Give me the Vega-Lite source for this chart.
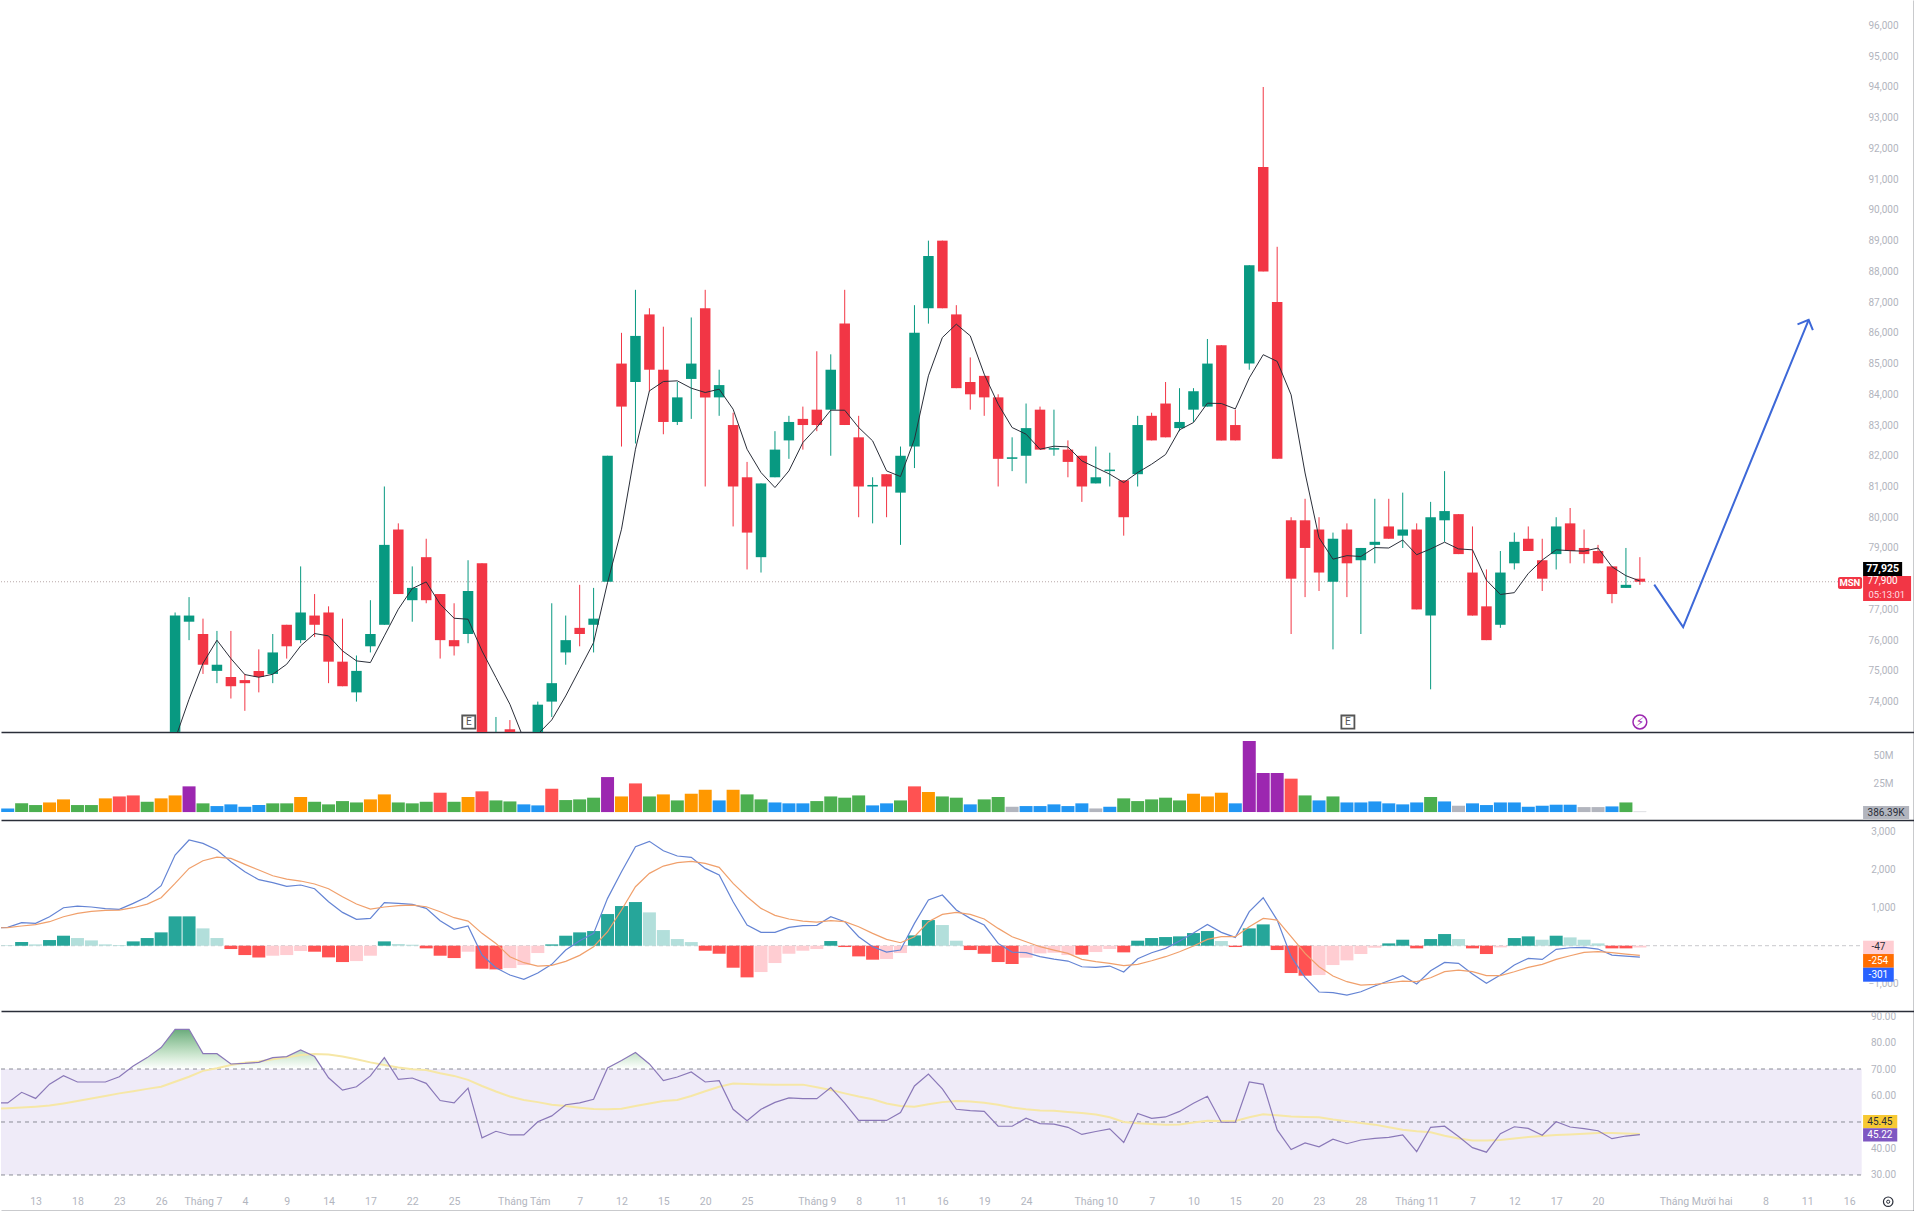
{
  "$schema": "https://vega.github.io/schema/vega-lite/v6.json",
  "padding": 0,
  "autosize": {"type": "pad"},
  "background": "white",
  "spacing": 0,
  "bounds": "flush",
  "resolve": {"scale": {"color": "independent"}},
  "config": {
    "view": {"stroke": null},
    "scale": {"continuousPadding": 0},
    "axis": {"grid": false, "ticks": false, "labelFont": "Roboto", "labelFontSize": 10, "labelColor": "#b2b5be", "domainColor": "#2a2e39", "domainWidth": 1.5, "labelOverlap": false, "labelBound": false, "labelFlush": false},
    "text": {"font": "Roboto"}
  },
  "datasets": {
    "one": [{"row": 1}],
    "bars": [
      {"i":-1,"macd":470,"signal":470,"rsi":57.2,"rsiMa":55},
      {"i":0,"vol":3.2,"volBand":"blue","hist":9,"histBand":"upFade","macd":482,"signal":474,"rsi":57.2,"rsiMa":55.2},
      {"i":1,"vol":7.7,"volBand":"green","hist":96,"histBand":"up","macd":605,"signal":518,"rsi":61.2,"rsiMa":55.5},
      {"i":2,"vol":6.2,"volBand":"green","hist":35,"histBand":"upFade","macd":588,"signal":553,"rsi":58.9,"rsiMa":55.8},
      {"i":3,"vol":8.5,"volBand":"orange","hist":149,"histBand":"up","macd":763,"signal":632,"rsi":64.3,"rsiMa":56.2},
      {"i":4,"vol":11.2,"volBand":"orange","hist":263,"histBand":"up","macd":1000,"signal":763,"rsi":67.5,"rsiMa":57},
      {"i":5,"vol":6.2,"volBand":"green","hist":202,"histBand":"upFade","macd":1044,"signal":851,"rsi":65.1,"rsiMa":57.9},
      {"i":6,"vol":6.2,"volBand":"green","hist":140,"histBand":"upFade","macd":1018,"signal":904,"rsi":65.1,"rsiMa":58.9},
      {"i":7,"vol":12.1,"volBand":"orange","hist":35,"histBand":"upFade","macd":974,"signal":930,"rsi":65.1,"rsiMa":59.8},
      {"i":8,"vol":13.8,"volBand":"red","hist":18,"histBand":"upFade","macd":956,"signal":939,"rsi":67.1,"rsiMa":60.8},
      {"i":9,"vol":14.7,"volBand":"red","hist":114,"histBand":"up","macd":1114,"signal":1000,"rsi":71.1,"rsiMa":61.6},
      {"i":10,"vol":9.1,"volBand":"green","hist":202,"histBand":"up","macd":1289,"signal":1096,"rsi":74.3,"rsiMa":62.5},
      {"i":11,"vol":12.1,"volBand":"orange","hist":351,"histBand":"up","macd":1579,"signal":1263,"rsi":78.1,"rsiMa":63.3},
      {"i":12,"open":72000,"high":76900,"low":71800,"close":76800,"ma":72775,"vol":14.7,"volBand":"orange","hist":772,"histBand":"up","macd":2386,"signal":1640,"rsi":85,"rsiMa":65.2},
      {"i":13,"open":76600,"high":77400,"low":76000,"close":76800,"ma":74077,"vol":22.7,"volBand":"purple","hist":772,"histBand":"up","macd":2781,"signal":2035,"rsi":85,"rsiMa":67.1},
      {"i":14,"open":76200,"high":76700,"low":74900,"close":75200,"ma":75249,"vol":7.7,"volBand":"green","hist":456,"histBand":"upFade","macd":2693,"signal":2237,"rsi":75.8,"rsiMa":69.3},
      {"i":15,"open":75000,"high":76300,"low":74600,"close":75200,"ma":75998,"vol":5.3,"volBand":"blue","hist":202,"histBand":"upFade","macd":2518,"signal":2333,"rsi":75.8,"rsiMa":70.3},
      {"i":16,"open":74800,"high":76300,"low":74100,"close":74500,"ma":75401,"vol":6.8,"volBand":"blue","hist":-88,"histBand":"down","macd":2211,"signal":2298,"rsi":71.9,"rsiMa":71.5},
      {"i":17,"open":74700,"high":74900,"low":73700,"close":74600,"ma":74880,"vol":4.7,"volBand":"blue","hist":-246,"histBand":"down","macd":1947,"signal":2140,"rsi":72.1,"rsiMa":72.4},
      {"i":18,"open":75000,"high":75700,"low":74300,"close":74800,"ma":74793,"vol":6.2,"volBand":"blue","hist":-307,"histBand":"down","macd":1737,"signal":1991,"rsi":72.5,"rsiMa":72.8},
      {"i":19,"open":74900,"high":76200,"low":74600,"close":75600,"ma":74890,"vol":7.7,"volBand":"green","hist":-263,"histBand":"downFade","macd":1658,"signal":1842,"rsi":74.3,"rsiMa":73.7},
      {"i":20,"open":76500,"high":76500,"low":75400,"close":75800,"ma":75216,"vol":7.7,"volBand":"green","hist":-246,"histBand":"downFade","macd":1561,"signal":1754,"rsi":74.7,"rsiMa":74.4},
      {"i":21,"open":76000,"high":78400,"low":75900,"close":76900,"ma":75813,"vol":13.3,"volBand":"orange","hist":-140,"histBand":"downFade","macd":1597,"signal":1702,"rsi":77.2,"rsiMa":75.3},
      {"i":22,"open":76800,"high":77500,"low":76100,"close":76500,"ma":76215,"vol":9.1,"volBand":"green","hist":-158,"histBand":"down","macd":1500,"signal":1623,"rsi":74.7,"rsiMa":75.7},
      {"i":23,"open":76900,"high":77100,"low":74600,"close":75300,"ma":76139,"vol":6.8,"volBand":"green","hist":-307,"histBand":"down","macd":1158,"signal":1500,"rsi":66.7,"rsiMa":75.5},
      {"i":24,"open":75300,"high":76700,"low":74500,"close":74500,"ma":75650,"vol":9.7,"volBand":"green","hist":-430,"histBand":"down","macd":877,"signal":1289,"rsi":62,"rsiMa":74.7},
      {"i":25,"open":74300,"high":75500,"low":74000,"close":75000,"ma":75325,"vol":8.5,"volBand":"green","hist":-404,"histBand":"downFade","macd":693,"signal":1096,"rsi":63.3,"rsiMa":73.7},
      {"i":26,"open":75800,"high":77300,"low":75600,"close":76200,"ma":75271,"vol":11.2,"volBand":"orange","hist":-263,"histBand":"downFade","macd":719,"signal":965,"rsi":67.4,"rsiMa":72.5},
      {"i":27,"open":76500,"high":81000,"low":76500,"close":79100,"ma":76139,"vol":15.6,"volBand":"orange","hist":114,"histBand":"up","macd":1132,"signal":1018,"rsi":74.3,"rsiMa":71.5},
      {"i":28,"open":79600,"high":79800,"low":77500,"close":77500,"ma":77006,"vol":8.5,"volBand":"green","hist":44,"histBand":"upFade","macd":1114,"signal":1053,"rsi":66.1,"rsiMa":70.6},
      {"i":29,"open":77300,"high":78400,"low":76600,"close":77700,"ma":77680,"vol":7.7,"volBand":"green","hist":26,"histBand":"upFade","macd":1088,"signal":1070,"rsi":66.6,"rsiMa":69.9},
      {"i":30,"open":78700,"high":79300,"low":77200,"close":77300,"ma":77896,"vol":9.1,"volBand":"green","hist":-70,"histBand":"down","macd":982,"signal":1026,"rsi":64.6,"rsiMa":69.6},
      {"i":31,"open":77500,"high":77500,"low":75400,"close":76000,"ma":77169,"vol":17.1,"volBand":"red","hist":-263,"histBand":"down","macd":658,"signal":895,"rsi":58.1,"rsiMa":68.4},
      {"i":32,"open":76000,"high":77200,"low":75500,"close":75800,"ma":76713,"vol":9.1,"volBand":"green","hist":-325,"histBand":"down","macd":430,"signal":737,"rsi":57.2,"rsiMa":67.4},
      {"i":33,"open":76200,"high":78600,"low":75900,"close":77600,"ma":76681,"vol":13.3,"volBand":"orange","hist":-158,"histBand":"downFade","macd":518,"signal":649,"rsi":62.8,"rsiMa":65.9},
      {"i":34,"open":78500,"high":78500,"low":72700,"close":72800,"ma":75650,"vol":18.3,"volBand":"red","hist":-605,"histBand":"down","macd":-246,"signal":325,"rsi":44,"rsiMa":63.6},
      {"i":35,"open":72500,"high":73500,"low":72300,"close":72900,"ma":74782,"vol":10.3,"volBand":"green","hist":-623,"histBand":"down","macd":-579,"signal":61,"rsi":46.5,"rsiMa":61.5},
      {"i":36,"open":73100,"high":73400,"low":72500,"close":72600,"ma":73914,"vol":9.4,"volBand":"green","hist":-588,"histBand":"downFade","macd":-772,"signal":-289,"rsi":45.1,"rsiMa":59.6},
      {"i":37,"open":72500,"high":72800,"low":71900,"close":72000,"ma":72775,"vol":6.8,"volBand":"blue","hist":-509,"histBand":"downFade","macd":-886,"signal":-447,"rsi":45.1,"rsiMa":58.3},
      {"i":38,"open":72800,"high":74000,"low":72700,"close":73900,"ma":72937,"vol":5.9,"volBand":"blue","hist":-193,"histBand":"downFade","macd":-719,"signal":-535,"rsi":50.1,"rsiMa":57.5},
      {"i":39,"open":74000,"high":77200,"low":73500,"close":74600,"ma":73404,"vol":20.6,"volBand":"red","hist":35,"histBand":"up","macd":-491,"signal":-518,"rsi":52.3,"rsiMa":56.5},
      {"i":40,"open":75600,"high":76800,"low":75200,"close":76000,"ma":74185,"vol":10.6,"volBand":"green","hist":263,"histBand":"up","macd":-114,"signal":-412,"rsi":56.5,"rsiMa":56},
      {"i":41,"open":76400,"high":77800,"low":75800,"close":76200,"ma":75054,"vol":11.2,"volBand":"green","hist":351,"histBand":"up","macd":132,"signal":-254,"rsi":57.2,"rsiMa":55.4},
      {"i":42,"open":76500,"high":77700,"low":75600,"close":76700,"ma":75921,"vol":12.7,"volBand":"green","hist":386,"histBand":"up","macd":325,"signal":-26,"rsi":58.6,"rsiMa":54.9},
      {"i":43,"open":77900,"high":82000,"low":77900,"close":82000,"ma":77874,"vol":30.9,"volBand":"purple","hist":833,"histBand":"up","macd":1246,"signal":368,"rsi":70.4,"rsiMa":54.8},
      {"i":44,"open":85000,"high":86000,"low":82300,"close":83600,"ma":79610,"vol":13.8,"volBand":"orange","hist":1044,"histBand":"up","macd":1947,"signal":939,"rsi":73.2,"rsiMa":55},
      {"i":45,"open":84400,"high":87400,"low":82400,"close":85900,"ma":82213,"vol":25.3,"volBand":"red","hist":1149,"histBand":"up","macd":2605,"signal":1553,"rsi":76.2,"rsiMa":56},
      {"i":46,"open":86600,"high":86800,"low":84100,"close":84800,"ma":84112,"vol":13.8,"volBand":"green","hist":877,"histBand":"upFade","macd":2746,"signal":1904,"rsi":71.9,"rsiMa":57},
      {"i":47,"open":84800,"high":86200,"low":82700,"close":83100,"ma":84416,"vol":15.6,"volBand":"orange","hist":412,"histBand":"upFade","macd":2500,"signal":2096,"rsi":65.6,"rsiMa":57.9},
      {"i":48,"open":83100,"high":84400,"low":83000,"close":83900,"ma":84438,"vol":10.3,"volBand":"green","hist":175,"histBand":"upFade","macd":2360,"signal":2184,"rsi":67,"rsiMa":58.3},
      {"i":49,"open":84500,"high":86500,"low":83200,"close":85000,"ma":84199,"vol":16.2,"volBand":"orange","hist":96,"histBand":"upFade","macd":2325,"signal":2219,"rsi":68.9,"rsiMa":59.8},
      {"i":50,"open":86800,"high":87400,"low":81000,"close":83900,"ma":84058,"vol":19.7,"volBand":"orange","hist":-132,"histBand":"down","macd":2035,"signal":2167,"rsi":65.1,"rsiMa":61.6},
      {"i":51,"open":83900,"high":84800,"low":83300,"close":84300,"ma":84167,"vol":10.3,"volBand":"blue","hist":-211,"histBand":"down","macd":1860,"signal":2061,"rsi":65.6,"rsiMa":63.3},
      {"i":52,"open":83000,"high":83400,"low":79700,"close":81000,"ma":83516,"vol":19.7,"volBand":"orange","hist":-579,"histBand":"down","macd":1158,"signal":1640,"rsi":54.8,"rsiMa":64.5},
      {"i":53,"open":81300,"high":81800,"low":78300,"close":79500,"ma":82213,"vol":15.6,"volBand":"green","hist":-833,"histBand":"down","macd":544,"signal":1289,"rsi":50.5,"rsiMa":64.3},
      {"i":54,"open":78700,"high":81100,"low":78200,"close":81100,"ma":81454,"vol":11.2,"volBand":"green","hist":-693,"histBand":"downFade","macd":351,"signal":982,"rsi":54.8,"rsiMa":64.2},
      {"i":55,"open":81300,"high":82800,"low":81300,"close":82200,"ma":80966,"vol":8.5,"volBand":"blue","hist":-456,"histBand":"downFade","macd":351,"signal":798,"rsi":57.4,"rsiMa":64.1},
      {"i":56,"open":82500,"high":83300,"low":81900,"close":83100,"ma":81508,"vol":7.7,"volBand":"blue","hist":-211,"histBand":"downFade","macd":482,"signal":702,"rsi":59.1,"rsiMa":64.1},
      {"i":57,"open":83200,"high":83600,"low":82200,"close":83000,"ma":82431,"vol":7.7,"volBand":"blue","hist":-132,"histBand":"downFade","macd":526,"signal":649,"rsi":58.8,"rsiMa":64.1},
      {"i":58,"open":83500,"high":85400,"low":82800,"close":83000,"ma":82919,"vol":9.7,"volBand":"green","hist":-88,"histBand":"downFade","macd":535,"signal":623,"rsi":58.8,"rsiMa":63.1},
      {"i":59,"open":83500,"high":85300,"low":82000,"close":84800,"ma":83483,"vol":13.8,"volBand":"green","hist":123,"histBand":"up","macd":763,"signal":658,"rsi":63,"rsiMa":62.1},
      {"i":60,"open":86300,"high":87400,"low":83000,"close":83000,"ma":83483,"vol":12.7,"volBand":"green","hist":-35,"histBand":"down","macd":632,"signal":632,"rsi":57.1,"rsiMa":60.8},
      {"i":61,"open":82600,"high":83300,"low":80000,"close":81000,"ma":82919,"vol":14.7,"volBand":"green","hist":-281,"histBand":"down","macd":237,"signal":500,"rsi":50.6,"rsiMa":59.6},
      {"i":62,"open":81000,"high":81300,"low":79800,"close":81050,"ma":82485,"vol":5.9,"volBand":"blue","hist":-368,"histBand":"down","macd":-26,"signal":325,"rsi":50.6,"rsiMa":58.6},
      {"i":63,"open":81400,"high":81400,"low":80000,"close":81000,"ma":81508,"vol":7.7,"volBand":"blue","hist":-351,"histBand":"downFade","macd":-167,"signal":167,"rsi":50.6,"rsiMa":57},
      {"i":64,"open":80800,"high":82300,"low":79100,"close":82000,"ma":81324,"vol":10.3,"volBand":"green","hist":-193,"histBand":"downFade","macd":-114,"signal":79,"rsi":53.6,"rsiMa":56},
      {"i":65,"open":82300,"high":86900,"low":81600,"close":86000,"ma":82539,"vol":22.7,"volBand":"red","hist":272,"histBand":"up","macd":588,"signal":237,"rsi":63.6,"rsiMa":55.8},
      {"i":66,"open":86800,"high":89000,"low":86300,"close":88500,"ma":84601,"vol":17.7,"volBand":"orange","hist":675,"histBand":"up","macd":1202,"signal":632,"rsi":68.1,"rsiMa":56.7},
      {"i":67,"open":89000,"high":89000,"low":86800,"close":86800,"ma":85848,"vol":13.8,"volBand":"green","hist":544,"histBand":"upFade","macd":1333,"signal":825,"rsi":62.5,"rsiMa":57.5},
      {"i":68,"open":86600,"high":86900,"low":84200,"close":84200,"ma":86282,"vol":12.7,"volBand":"green","hist":132,"histBand":"upFade","macd":939,"signal":877,"rsi":54.8,"rsiMa":57.9},
      {"i":69,"open":84400,"high":85200,"low":83500,"close":84000,"ma":85903,"vol":6.8,"volBand":"blue","hist":-114,"histBand":"down","macd":719,"signal":825,"rsi":54.3,"rsiMa":57.7},
      {"i":70,"open":84600,"high":84600,"low":83300,"close":83900,"ma":84655,"vol":11.2,"volBand":"green","hist":-211,"histBand":"down","macd":544,"signal":702,"rsi":54,"rsiMa":57.3},
      {"i":71,"open":83900,"high":84000,"low":81000,"close":81900,"ma":83678,"vol":13.3,"volBand":"green","hist":-430,"histBand":"down","macd":61,"signal":456,"rsi":48.4,"rsiMa":56.5},
      {"i":72,"open":81900,"high":82600,"low":81500,"close":81950,"ma":82919,"vol":4.7,"volBand":"grey","hist":-482,"histBand":"down","macd":-167,"signal":237,"rsi":48.4,"rsiMa":55.5},
      {"i":73,"open":82000,"high":83700,"low":81100,"close":82900,"ma":82702,"vol":5.3,"volBand":"blue","hist":-316,"histBand":"downFade","macd":-184,"signal":105,"rsi":51.4,"rsiMa":54.8},
      {"i":74,"open":83500,"high":83600,"low":82200,"close":82200,"ma":82213,"vol":5.3,"volBand":"blue","hist":-202,"histBand":"downFade","macd":-289,"signal":-26,"rsi":49.4,"rsiMa":54.3},
      {"i":75,"open":82200,"high":83500,"low":82000,"close":82250,"ma":82311,"vol":6.8,"volBand":"blue","hist":-184,"histBand":"downFade","macd":-351,"signal":-114,"rsi":49.2,"rsiMa":54.2},
      {"i":76,"open":82200,"high":82500,"low":81300,"close":81800,"ma":82289,"vol":5.3,"volBand":"blue","hist":-246,"histBand":"downFade","macd":-404,"signal":-202,"rsi":48,"rsiMa":53.8},
      {"i":77,"open":82000,"high":82000,"low":80500,"close":81000,"ma":81834,"vol":7.7,"volBand":"blue","hist":-237,"histBand":"down","macd":-553,"signal":-360,"rsi":45.3,"rsiMa":53.4},
      {"i":78,"open":81100,"high":82300,"low":81100,"close":81300,"ma":81617,"vol":3.2,"volBand":"grey","hist":-167,"histBand":"downFade","macd":-570,"signal":-421,"rsi":46.4,"rsiMa":52.8},
      {"i":79,"open":81500,"high":82100,"low":81000,"close":81550,"ma":81400,"vol":4.7,"volBand":"blue","hist":-88,"histBand":"downFade","macd":-535,"signal":-465,"rsi":47.4,"rsiMa":51.8},
      {"i":80,"open":81200,"high":81200,"low":79400,"close":80000,"ma":81129,"vol":12.1,"volBand":"green","hist":-175,"histBand":"down","macd":-693,"signal":-526,"rsi":42.3,"rsiMa":50},
      {"i":81,"open":81400,"high":83300,"low":81000,"close":83000,"ma":81454,"vol":9.7,"volBand":"green","hist":132,"histBand":"up","macd":-342,"signal":-491,"rsi":53.2,"rsiMa":49.5},
      {"i":82,"open":83300,"high":83400,"low":82500,"close":82500,"ma":81725,"vol":11.2,"volBand":"green","hist":202,"histBand":"up","macd":-184,"signal":-395,"rsi":51.4,"rsiMa":49.2},
      {"i":83,"open":83700,"high":84400,"low":82600,"close":82600,"ma":82040,"vol":12.7,"volBand":"green","hist":228,"histBand":"up","macd":-70,"signal":-289,"rsi":51.9,"rsiMa":49},
      {"i":84,"open":82900,"high":84200,"low":82800,"close":83100,"ma":82843,"vol":10.3,"volBand":"green","hist":246,"histBand":"up","macd":123,"signal":-158,"rsi":54,"rsiMa":49.1},
      {"i":85,"open":83500,"high":84200,"low":83100,"close":84100,"ma":83081,"vol":16.2,"volBand":"orange","hist":333,"histBand":"up","macd":333,"signal":-9,"rsi":57.1,"rsiMa":49.8},
      {"i":86,"open":83600,"high":85800,"low":83600,"close":85000,"ma":83711,"vol":13.8,"volBand":"orange","hist":386,"histBand":"up","macd":561,"signal":167,"rsi":59.7,"rsiMa":50.5},
      {"i":87,"open":85600,"high":85600,"low":82500,"close":82500,"ma":83700,"vol":17.1,"volBand":"orange","hist":123,"histBand":"upFade","macd":351,"signal":237,"rsi":49.9,"rsiMa":50.4},
      {"i":88,"open":83000,"high":83500,"low":82500,"close":82500,"ma":83525,"vol":7.7,"volBand":"blue","hist":-35,"histBand":"down","macd":219,"signal":237,"rsi":49.9,"rsiMa":50.4},
      {"i":89,"open":85000,"high":88200,"low":84800,"close":88200,"ma":84534,"vol":62.7,"volBand":"purple","hist":456,"histBand":"up","macd":895,"signal":500,"rsi":65.1,"rsiMa":51.8},
      {"i":90,"open":91400,"high":94000,"low":88000,"close":88000,"ma":85289,"vol":34.5,"volBand":"purple","hist":561,"histBand":"up","macd":1263,"signal":719,"rsi":64.2,"rsiMa":52.9},
      {"i":91,"open":87000,"high":88800,"low":81900,"close":81900,"ma":85071,"vol":34.5,"volBand":"purple","hist":-114,"histBand":"down","macd":675,"signal":675,"rsi":47,"rsiMa":52.5},
      {"i":92,"open":79900,"high":80000,"low":76200,"close":78000,"ma":83982,"vol":29.5,"volBand":"red","hist":-719,"histBand":"down","macd":-289,"signal":237,"rsi":39.6,"rsiMa":52.1},
      {"i":93,"open":79900,"high":80600,"low":77400,"close":79000,"ma":81439,"vol":14.7,"volBand":"green","hist":-789,"histBand":"down","macd":-833,"signal":-202,"rsi":42.1,"rsiMa":51.9},
      {"i":94,"open":79600,"high":80000,"low":77600,"close":78200,"ma":79332,"vol":10.3,"volBand":"blue","hist":-772,"histBand":"downFade","macd":-1219,"signal":-553,"rsi":40.6,"rsiMa":51.8},
      {"i":95,"open":77900,"high":79500,"low":75700,"close":79300,"ma":78635,"vol":13.8,"volBand":"green","hist":-509,"histBand":"downFade","macd":-1237,"signal":-798,"rsi":43.5,"rsiMa":50.9},
      {"i":96,"open":79600,"high":79800,"low":77400,"close":78500,"ma":78750,"vol":8.5,"volBand":"blue","hist":-386,"histBand":"downFade","macd":-1298,"signal":-947,"rsi":41.8,"rsiMa":50.3},
      {"i":97,"open":78600,"high":79000,"low":76200,"close":79000,"ma":78722,"vol":8.5,"volBand":"blue","hist":-219,"histBand":"downFade","macd":-1211,"signal":-1035,"rsi":43.2,"rsiMa":49.6},
      {"i":98,"open":79100,"high":80600,"low":78500,"close":79200,"ma":79012,"vol":9.4,"volBand":"blue","hist":-53,"histBand":"downFade","macd":-1061,"signal":-1018,"rsi":43.8,"rsiMa":49},
      {"i":99,"open":79700,"high":80600,"low":79300,"close":79300,"ma":78998,"vol":7.7,"volBand":"blue","hist":61,"histBand":"up","macd":-921,"signal":-974,"rsi":44.2,"rsiMa":48},
      {"i":100,"open":79400,"high":80800,"low":79000,"close":79600,"ma":79259,"vol":6.8,"volBand":"blue","hist":158,"histBand":"up","macd":-789,"signal":-930,"rsi":45.1,"rsiMa":47.1},
      {"i":101,"open":79600,"high":79800,"low":77000,"close":77000,"ma":78780,"vol":8.5,"volBand":"blue","hist":-70,"histBand":"down","macd":-1009,"signal":-947,"rsi":38.8,"rsiMa":46.5},
      {"i":102,"open":76800,"high":80500,"low":74400,"close":80000,"ma":78969,"vol":13.3,"volBand":"green","hist":175,"histBand":"up","macd":-658,"signal":-842,"rsi":48,"rsiMa":46.1},
      {"i":103,"open":79900,"high":81500,"low":79200,"close":80200,"ma":79187,"vol":9.4,"volBand":"blue","hist":307,"histBand":"up","macd":-439,"signal":-684,"rsi":48.4,"rsiMa":44.8},
      {"i":104,"open":80100,"high":80100,"low":78800,"close":78800,"ma":78969,"vol":5.6,"volBand":"grey","hist":175,"histBand":"upFade","macd":-465,"signal":-640,"rsi":44.5,"rsiMa":43.8},
      {"i":105,"open":78200,"high":79700,"low":76800,"close":76800,"ma":78940,"vol":7.7,"volBand":"blue","hist":-70,"histBand":"down","macd":-746,"signal":-684,"rsi":40.3,"rsiMa":43},
      {"i":106,"open":77100,"high":78300,"low":76000,"close":76000,"ma":77952,"vol":6.2,"volBand":"blue","hist":-219,"histBand":"down","macd":-991,"signal":-789,"rsi":38.6,"rsiMa":43},
      {"i":107,"open":76500,"high":78900,"low":76400,"close":78200,"ma":77486,"vol":8.5,"volBand":"blue","hist":-44,"histBand":"downFade","macd":-772,"signal":-789,"rsi":45.6,"rsiMa":43.2},
      {"i":108,"open":78500,"high":79500,"low":78300,"close":79200,"ma":77545,"vol":8.5,"volBand":"blue","hist":202,"histBand":"up","macd":-509,"signal":-684,"rsi":48.2,"rsiMa":43.8},
      {"i":109,"open":79300,"high":79700,"low":78900,"close":78900,"ma":78170,"vol":4.7,"volBand":"blue","hist":246,"histBand":"up","macd":-333,"signal":-570,"rsi":47.6,"rsiMa":44.3},
      {"i":110,"open":78600,"high":79300,"low":77600,"close":78000,"ma":78606,"vol":5.6,"volBand":"blue","hist":158,"histBand":"upFade","macd":-360,"signal":-491,"rsi":45,"rsiMa":44.7},
      {"i":111,"open":78800,"high":80000,"low":78300,"close":79700,"ma":78940,"vol":6.5,"volBand":"blue","hist":263,"histBand":"up","macd":-96,"signal":-360,"rsi":50.1,"rsiMa":45.1},
      {"i":112,"open":79800,"high":80300,"low":78500,"close":78900,"ma":78911,"vol":6.5,"volBand":"blue","hist":219,"histBand":"upFade","macd":-53,"signal":-263,"rsi":48.1,"rsiMa":45.3},
      {"i":113,"open":79000,"high":79600,"low":78500,"close":78800,"ma":78896,"vol":4.4,"volBand":"grey","hist":158,"histBand":"upFade","macd":-44,"signal":-175,"rsi":47.5,"rsiMa":45.6},
      {"i":114,"open":78900,"high":79100,"low":78500,"close":78500,"ma":78998,"vol":4.4,"volBand":"grey","hist":61,"histBand":"upFade","macd":-88,"signal":-158,"rsi":46.7,"rsiMa":45.8},
      {"i":115,"open":78400,"high":78400,"low":77200,"close":77500,"ma":78387,"vol":5,"volBand":"blue","hist":-70,"histBand":"down","macd":-246,"signal":-184,"rsi":43.7,"rsiMa":45.8},
      {"i":116,"open":77700,"high":79000,"low":77700,"close":77800,"ma":78097,"vol":8.5,"volBand":"green","hist":-70,"histBand":"down","macd":-272,"signal":-219,"rsi":44.7,"rsiMa":45.7},
      {"i":117,"open":78000,"high":78700,"low":77800,"close":77900,"ma":77925,"vol":0.39,"volBand":"grey","hist":-47,"histBand":"downFade","macd":-301,"signal":-254,"rsi":45.22,"rsiMa":45.45}
    ],
    "arrow": [
      {"i":118.03,"price":77806,"part":"path"},
      {"i":120.1,"price":76426,"part":"path"},
      {"i":129.1,"price":86423,"part":"path"},
      {"i":128.3,"price":86277,"part":"head"},
      {"i":129.1,"price":86423,"part":"head"},
      {"i":129.4,"price":86089,"part":"head"}
    ],
    "events": [
      {"i":33.05,"price":73336,"kind":"E"},
      {"i":96.07,"price":73336,"kind":"E"}
    ]
  },
  "vconcat": [
    {
      "width": 1913,
      "height": 732,
      "data": {"name": "bars"},
      "encoding": {
        "x": {"type": "quantitative", "title": null, "scale": {"domain": [-0.48, 136.65], "nice": false, "zero": false, "padding": 0}, "axis": {"labels": false}},
        "y": {"type": "quantitative", "title": null, "scale": {"domain": [73011, 96831], "nice": false, "zero": false}, "axis": {"orient": "right", "labelPadding": -31, "labelAlign": "center", "format": ",.0f", "values": [74000,75000,76000,77000,78000,79000,80000,81000,82000,83000,84000,85000,86000,87000,88000,89000,90000,91000,92000,93000,94000,95000,96000]}}
      },
      "layer": [
        {
          "data": {"name": "one"},
          "mark": {"type": "rule", "color": "#b9a9a9", "strokeWidth": 1, "strokeDash": [1, 2]},
          "encoding": {"x": {"datum": -0.48}, "x2": {"datum": 131.2}, "y": {"datum": 77900}}
        },
        {
          "transform": [{"filter": "isValid(datum.open)"}],
          "mark": {"type": "rule", "strokeWidth": 1, "clip": true},
          "encoding": {
            "x": {"field": "i"},
            "y": {"field": "low"},
            "y2": {"field": "high"},
            "color": {"condition": {"test": "datum.close >= datum.open", "value": "#089981"}, "value": "#f23645"}
          }
        },
        {
          "transform": [{"filter": "isValid(datum.open)"}],
          "mark": {"type": "bar", "size": 10.5, "orient": "vertical", "clip": true},
          "encoding": {
            "x": {"field": "i"},
            "y": {"field": "open"},
            "y2": {"field": "close"},
            "color": {"condition": {"test": "datum.close >= datum.open", "value": "#089981"}, "value": "#f23645"}
          }
        },
        {
          "transform": [{"filter": "isValid(datum.ma)"}],
          "mark": {"type": "line", "color": "#2a2e39", "strokeWidth": 1, "clip": true},
          "encoding": {"x": {"field": "i"}, "y": {"field": "ma"}}
        },
        {
          "data": {"name": "arrow"},
          "mark": {"type": "line", "color": "#3d68d8", "strokeWidth": 2},
          "encoding": {"x": {"field": "i"}, "y": {"field": "price"}, "detail": {"field": "part"}, "order": {"value": 0}}
        },
        {
          "data": {"name": "events"},
          "mark": {"type": "point", "shape": "square", "size": 170, "filled": true, "fill": "white", "stroke": "#555555", "strokeWidth": 1.8, "opacity": 1},
          "encoding": {"x": {"field": "i"}, "y": {"field": "price"}}
        },
        {
          "data": {"name": "events"},
          "mark": {"type": "text", "fontSize": 10, "color": "#555555"},
          "encoding": {"x": {"field": "i"}, "y": {"field": "price"}, "text": {"field": "kind"}}
        },
        {
          "data": {"name": "one"},
          "mark": {"type": "point", "shape": "circle", "size": 190, "fill": "white", "filled": true, "stroke": "#9c27b0", "strokeWidth": 1.5, "opacity": 1},
          "encoding": {"x": {"datum": 117}, "y": {"datum": 73336}}
        },
        {
          "data": {"name": "one"},
          "mark": {"type": "text", "text": "⚡", "font": "DejaVu Sans", "fontSize": 12, "color": "#9c27b0"},
          "encoding": {"x": {"datum": 117}, "y": {"datum": 73336}}
        },
        {
          "data": {"name": "one"},
          "mark": {"type": "rect", "color": "#f23645", "cornerRadius": 2},
          "encoding": {"x": {"datum": 131.2}, "x2": {"datum": 132.93}, "y": {"datum": 78055}, "y2": {"datum": 77664}}
        },
        {
          "data": {"name": "one"},
          "mark": {"type": "text", "text": "MSN", "fontSize": 9.5, "fontWeight": "bold", "color": "white"},
          "encoding": {"x": {"datum": 132.05}, "y": {"datum": 77860}}
        },
        {
          "data": {"name": "one"},
          "mark": {"type": "rect", "color": "black"},
          "encoding": {"x": {"datum": 133.0}, "x2": {"datum": 135.8}, "y": {"datum": 78543}, "y2": {"datum": 78087}}
        },
        {
          "data": {"name": "one"},
          "mark": {"type": "text", "text": "77,925", "fontSize": 10.5, "fontWeight": "bold", "color": "white"},
          "encoding": {"x": {"datum": 134.4}, "y": {"datum": 78315}}
        },
        {
          "data": {"name": "one"},
          "mark": {"type": "rect", "color": "#f23645"},
          "encoding": {"x": {"datum": 133.0}, "x2": {"datum": 136.44}, "y": {"datum": 78087}, "y2": {"datum": 77274}}
        },
        {
          "data": {"name": "one"},
          "mark": {"type": "text", "text": "77,900", "fontSize": 10, "color": "white"},
          "encoding": {"x": {"datum": 134.4}, "y": {"datum": 77925}}
        },
        {
          "data": {"name": "one"},
          "mark": {"type": "text", "text": "05:13:01", "fontSize": 9.5, "color": "#ffdfe3"},
          "encoding": {"x": {"datum": 134.7}, "y": {"datum": 77480}}
        }
      ]
    },
    {
      "width": 1913,
      "height": 88,
      "data": {"name": "bars"},
      "encoding": {
        "x": {"type": "quantitative", "title": null, "scale": {"domain": [-0.48, 136.65], "nice": false, "zero": false, "padding": 0}, "axis": {"labels": false}},
        "y": {"type": "quantitative", "title": null, "scale": {"domain": [-7, 70.7], "nice": false, "zero": false}, "axis": {"orient": "right", "labelPadding": -31, "labelAlign": "center", "values": [25, 50], "labelExpr": "datum.value + 'M'"}}
      },
      "layer": [
        {
          "transform": [{"filter": "isValid(datum.vol)"}],
          "mark": {"type": "bar", "size": 13, "orient": "vertical"},
          "encoding": {
            "x": {"field": "i"},
            "y": {"field": "vol"},
            "color": {"field": "volBand", "type": "nominal", "legend": null, "scale": {"domain": ["blue", "green", "orange", "red", "purple", "grey"], "range": ["#2196f3", "#4caf50", "#ff9800", "#ff5252", "#9c27b0", "#b2b5be"]}}
          }
        },
        {
          "data": {"name": "one"},
          "mark": {"type": "rect", "color": "#b2b5be"},
          "encoding": {"x": {"datum": 133.0}, "x2": {"datum": 136.3}, "y": {"datum": 5.3}, "y2": {"datum": -6.2}}
        },
        {
          "data": {"name": "one"},
          "mark": {"type": "text", "text": "386.39K", "fontSize": 10, "color": "#2a2e39"},
          "encoding": {"x": {"datum": 134.65}, "y": {"datum": -0.5}}
        }
      ]
    },
    {
      "width": 1913,
      "height": 191,
      "data": {"name": "bars"},
      "encoding": {
        "x": {"type": "quantitative", "title": null, "scale": {"domain": [-0.48, 136.65], "nice": false, "zero": false, "padding": 0}, "axis": {"labels": false}},
        "y": {"type": "quantitative", "title": null, "scale": {"domain": [-1718, 3308], "nice": false, "zero": false}, "axis": {"orient": "right", "labelPadding": -31, "labelAlign": "center", "format": ",.0f", "values": [3000, 2000, 1000, -1000]}}
      },
      "layer": [
        {
          "data": {"name": "one"},
          "mark": {"type": "rule", "color": "#c8c8cc", "strokeWidth": 1, "strokeDash": [4, 3]},
          "encoding": {"x": {"datum": -0.48}, "x2": {"datum": 133}, "y": {"datum": 0}}
        },
        {
          "transform": [{"filter": "isValid(datum.hist)"}],
          "mark": {"type": "bar", "size": 13, "orient": "vertical"},
          "encoding": {
            "x": {"field": "i"},
            "y": {"field": "hist"},
            "color": {"field": "histBand", "type": "nominal", "legend": null, "scale": {"domain": ["up", "upFade", "down", "downFade"], "range": ["#26a69a", "#b2dfdb", "#ff5252", "#ffcdd2"]}}
          }
        },
        {
          "mark": {"type": "line", "color": "#6484d4", "strokeWidth": 1.2, "clip": true},
          "encoding": {"x": {"field": "i"}, "y": {"field": "macd"}}
        },
        {
          "mark": {"type": "line", "color": "#f0a06c", "strokeWidth": 1.2, "clip": true},
          "encoding": {"x": {"field": "i"}, "y": {"field": "signal"}}
        },
        {
          "data": {"name": "one"},
          "mark": {"type": "rect", "color": "#ffcdd2"},
          "encoding": {"x": {"datum": 133}, "x2": {"datum": 135.2}, "y": {"datum": 132}, "y2": {"datum": -219}}
        },
        {
          "data": {"name": "one"},
          "mark": {"type": "text", "text": "-47", "fontSize": 10, "color": "#2a2e39"},
          "encoding": {"x": {"datum": 134.1}, "y": {"datum": -47}}
        },
        {
          "data": {"name": "one"},
          "mark": {"type": "rect", "color": "#ff6d00"},
          "encoding": {"x": {"datum": 133}, "x2": {"datum": 135.2}, "y": {"datum": -219}, "y2": {"datum": -579}}
        },
        {
          "data": {"name": "one"},
          "mark": {"type": "text", "text": "-254", "fontSize": 10, "color": "white"},
          "encoding": {"x": {"datum": 134.1}, "y": {"datum": -399}}
        },
        {
          "data": {"name": "one"},
          "mark": {"type": "rect", "color": "#2962ff"},
          "encoding": {"x": {"datum": 133}, "x2": {"datum": 135.2}, "y": {"datum": -579}, "y2": {"datum": -947}}
        },
        {
          "data": {"name": "one"},
          "mark": {"type": "text", "text": "-301", "fontSize": 10, "color": "white"},
          "encoding": {"x": {"datum": 134.1}, "y": {"datum": -763}}
        }
      ]
    },
    {
      "width": 1913,
      "height": 200,
      "data": {"name": "bars"},
      "encoding": {
        "x": {"type": "quantitative", "title": null, "scale": {"domain": [-0.48, 136.65], "nice": false, "zero": false, "padding": 0},
          "axis": {
            "labelPadding": -15,
            "labelFontSize": 10.5,
            "values": [2,5,8,11,14,17,20,23,26,29,32,37,41,44,47,50,53,58,61,64,67,70,73,78,82,85,88,91,94,97,101,105,108,111,114,121,126,129,132],
            "labelExpr": "{2:'13',5:'18',8:'23',11:'26',14:'Tháng 7',17:'4',20:'9',23:'14',26:'17',29:'22',32:'25',37:'Tháng Tám',41:'7',44:'12',47:'15',50:'20',53:'25',58:'Tháng 9',61:'8',64:'11',67:'16',70:'19',73:'24',78:'Tháng 10',82:'7',85:'10',88:'15',91:'20',94:'23',97:'28',101:'Tháng 11',105:'7',108:'12',111:'17',114:'20',121:'Tháng Mười hai',126:'8',129:'11',132:'16'}[datum.value]"
          }
        },
        "y": {"type": "quantitative", "title": null, "scale": {"domain": [16.4, 91.9], "nice": false, "zero": false}, "axis": {"orient": "right", "labelPadding": -31, "labelAlign": "center", "format": ".2f", "values": [90, 80, 70, 60, 40, 30]}}
      },
      "layer": [
        {
          "data": {"name": "one"},
          "mark": {"type": "rect", "color": "#efebf8"},
          "encoding": {"x": {"datum": -0.48}, "x2": {"datum": 132.9}, "y": {"datum": 70}, "y2": {"datum": 30}}
        },
        {
          "data": {"name": "one"},
          "mark": {"type": "rule", "color": "#8a8c96", "strokeWidth": 1, "strokeDash": [4, 4]},
          "encoding": {"x": {"datum": -0.48}, "x2": {"datum": 132.9}, "y": {"datum": 70}}
        },
        {
          "data": {"name": "one"},
          "mark": {"type": "rule", "color": "#8a8c96", "strokeWidth": 1, "strokeDash": [4, 4]},
          "encoding": {"x": {"datum": -0.48}, "x2": {"datum": 132.9}, "y": {"datum": 50}}
        },
        {
          "data": {"name": "one"},
          "mark": {"type": "rule", "color": "#8a8c96", "strokeWidth": 1, "strokeDash": [4, 4]},
          "encoding": {"x": {"datum": -0.48}, "x2": {"datum": 132.9}, "y": {"datum": 30}}
        },
        {
          "mark": {
            "type": "area",
            "clip": true,
            "color": {"gradient": "linear", "x1": 0, "y1": 0, "x2": 0, "y2": 1, "stops": [
              {"offset": 0, "color": "rgba(56,142,80,0.75)"},
              {"offset": 0.323, "color": "rgba(76,175,80,0)"},
              {"offset": 1, "color": "rgba(76,175,80,0)"}
            ]}
          },
          "encoding": {
            "x": {"field": "i"},
            "y": {"field": "rsi"},
            "y2": {"datum": 70}
          }
        },
        {
          "mark": {"type": "line", "color": "#f6e7a6", "strokeWidth": 2, "clip": true},
          "encoding": {"x": {"field": "i"}, "y": {"field": "rsiMa"}}
        },
        {
          "mark": {"type": "line", "color": "#8a78b8", "strokeWidth": 1.2, "clip": true},
          "encoding": {"x": {"field": "i"}, "y": {"field": "rsi"}}
        },
        {
          "data": {"name": "one"},
          "mark": {"type": "rect", "color": "#f7c933"},
          "encoding": {"x": {"datum": 133}, "x2": {"datum": 135.45}, "y": {"datum": 52.6}, "y2": {"datum": 47.6}}
        },
        {
          "data": {"name": "one"},
          "mark": {"type": "text", "text": "45.45", "fontSize": 10, "color": "#2a2e39"},
          "encoding": {"x": {"datum": 134.2}, "y": {"datum": 50.1}}
        },
        {
          "data": {"name": "one"},
          "mark": {"type": "rect", "color": "#7e57c2"},
          "encoding": {"x": {"datum": 133}, "x2": {"datum": 135.45}, "y": {"datum": 47.6}, "y2": {"datum": 42.6}}
        },
        {
          "data": {"name": "one"},
          "mark": {"type": "text", "text": "45.22", "fontSize": 10, "color": "white"},
          "encoding": {"x": {"datum": 134.2}, "y": {"datum": 45.1}}
        },
        {
          "data": {"name": "one"},
          "mark": {"type": "point", "shape": "circle", "size": 90, "stroke": "#2a2e39", "strokeWidth": 1.2, "opacity": 1},
          "encoding": {"x": {"datum": 134.8}, "y": {"datum": 19.9}}
        },
        {
          "data": {"name": "one"},
          "mark": {"type": "point", "shape": "circle", "size": 10, "stroke": "#2a2e39", "strokeWidth": 1, "opacity": 1},
          "encoding": {"x": {"datum": 134.8}, "y": {"datum": 19.9}}
        }
      ]
    }
  ]
}
